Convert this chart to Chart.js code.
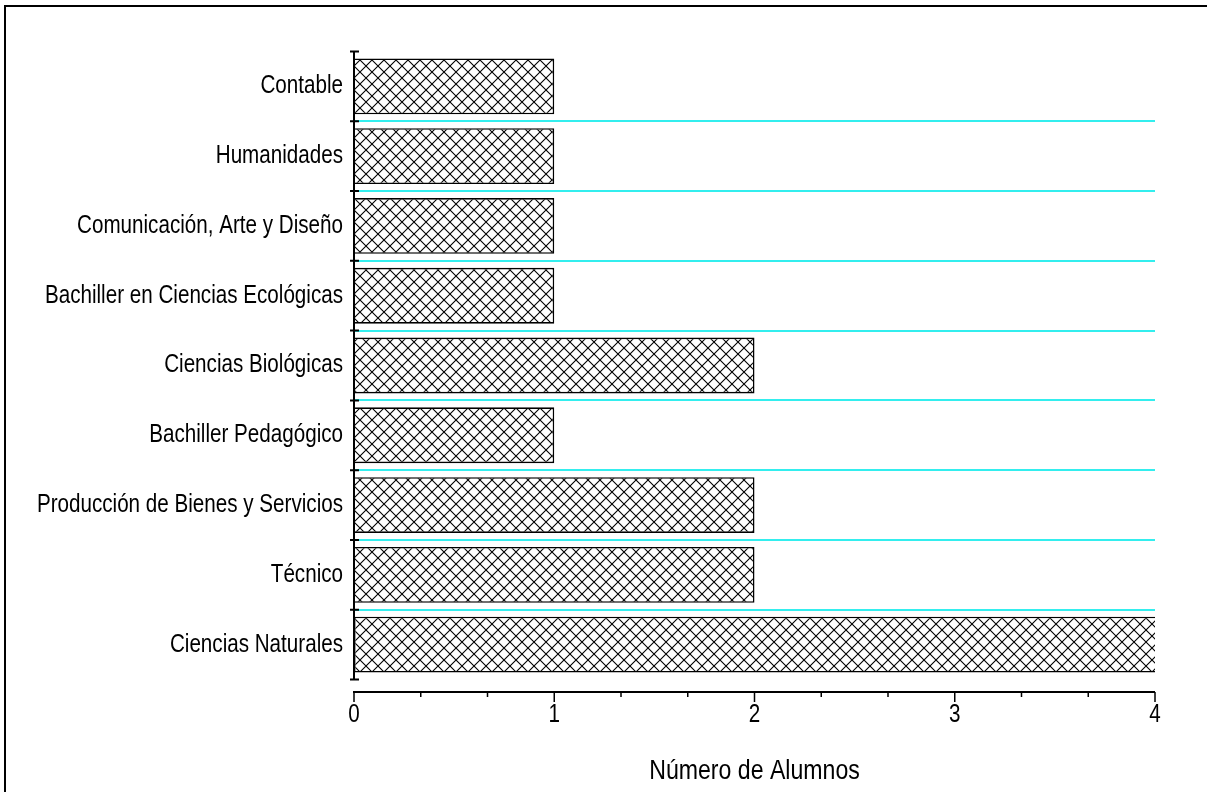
<!DOCTYPE html>
<html>
<head>
<meta charset="utf-8">
<script src="https://cdn.jsdelivr.net/npm/chart.js@4.4.0/dist/chart.umd.min.js"></script>
<style>
    body { margin: 0; background: #fff; overflow: hidden; }
    #wrap { position: relative; width: 1207px; height: 792px; }
    #frame { position: absolute; left: 4px; top: 5px; width: 1300px; height: 900px;
             border-left: 2px solid #000; border-top: 2px solid #000; }
    canvas { position: absolute; left: 0; top: 0; }
</style>
</head>
<body>
<div id="wrap">
    <div id="frame"></div>
    <canvas id="chart" width="1207" height="792"></canvas>
</div>
<script>
// datos del gráfico
const categorias = [
    'Contable',
    'Humanidades',
    'Comunicación, Arte y Diseño',
    'Bachiller en Ciencias Ecológicas',
    'Ciencias Biológicas',
    'Bachiller Pedagógico',
    'Producción de Bienes y Servicios',
    'Técnico',
    'Ciencias Naturales'
];
const alumnos = [1, 1, 1, 1, 2, 1, 2, 2, 4];
const xTicks = [0, 1, 2, 3, 4];
const tituloX = 'Número de Alumnos';

const fuente = "'Liberation Sans', Arial, sans-serif";
const estrechar = 0.825; // no hay fuente "narrow": se comprime el texto a lo ancho

const canvas = document.getElementById('chart');
const ctx2d = canvas.getContext('2d');

// texto condensado (como Helvetica Narrow del original)
const fillTextOriginal = ctx2d.fillText.bind(ctx2d);
ctx2d.fillText = function (texto, x, y, maxWidth) {
    this.save();
    this.translate(x, y);
    this.scale(estrechar, 1);
    if (maxWidth === undefined) fillTextOriginal(texto, 0, 0);
    else fillTextOriginal(texto, 0, 0, maxWidth / estrechar);
    this.restore();
};

// trama cruzada para las barras
function crearTrama() {
    const s = 12;
    const c = document.createElement('canvas');
    c.width = s;
    c.height = s;
    const g = c.getContext('2d');
    g.fillStyle = '#fff';
    g.fillRect(0, 0, s, s);
    g.strokeStyle = '#000';
    g.lineWidth = 1.1;
    g.beginPath();
    g.moveTo(0, 0); g.lineTo(s, s);
    g.moveTo(s, 0); g.lineTo(0, s);
    g.stroke();
    return ctx2d.createPattern(c, 'repeat');
}

// ejes dibujados a mano (eje x separado del área)
const ejesPlugin = {
    id: 'ejes',
    afterDatasetsDraw(chart) {
        const { ctx, chartArea, scales } = chart;
        const xs = scales.x, ys = scales.y;
        ctx.save();
        ctx.strokeStyle = '#000';
        ctx.lineWidth = 2;
        // eje y
        ctx.beginPath();
        ctx.moveTo(chartArea.left, chartArea.top);
        ctx.lineTo(chartArea.left, chartArea.bottom);
        for (let i = 0; i <= categorias.length; i++) {
            const y = ys.getPixelForValue(i - 0.5);
            ctx.moveTo(chartArea.left - 4, y);
            ctx.lineTo(chartArea.left + 5, y);
        }
        ctx.stroke();
        // eje x
        const yEje = chartArea.bottom + 12.5;
        ctx.beginPath();
        ctx.moveTo(chartArea.left - 1, yEje);
        ctx.lineTo(chartArea.right, yEje);
        ctx.stroke();
        ctx.beginPath();
        for (let k = 0; k <= 12; k++) {
            const x = xs.getPixelForValue(k / 3);
            const largo = k % 3 === 0 ? 10 : 5;
            ctx.moveTo(x, yEje);
            ctx.lineTo(x, yEje + largo);
        }
        ctx.lineWidth = 1.5;
        ctx.stroke();
        ctx.restore();
    }
};

new Chart(canvas, {
    type: 'bar',
    data: {
        labels: categorias,
        datasets: [{
            data: alumnos,
            backgroundColor: crearTrama(),
            borderColor: '#000',
            borderWidth: 1.6,
            borderSkipped: ctx => ctx.raw >= 4 ? 'right' : 'left',
            categoryPercentage: 0.8,
            barPercentage: 1
        }]
    },
    options: {
        indexAxis: 'y',
        responsive: false,
        animation: false,
        layout: { padding: { top: 51.5, right: 52, left: 0, bottom: 0 } },
        plugins: {
            legend: { display: false },
            tooltip: { enabled: false }
        },
        scales: {
            x: {
                min: 0,
                max: 4,
                afterBuildTicks: scale => { scale.ticks = xTicks.map(v => ({ value: v })); },
                afterFit: scale => { scale.height = 112.5; },
                grid: { display: false, drawTicks: false },
                border: { display: false },
                ticks: { padding: 21, color: '#000', font: { family: fuente, size: 25 } },
                title: {
                    display: true,
                    text: tituloX,
                    color: '#000',
                    font: { family: fuente, size: 28 },
                    padding: { top: 0, bottom: 4 }
                }
            },
            y: {
                afterFit: scale => { scale.width = 354; },
                grid: {
                    offset: true,
                    drawTicks: false,
                    lineWidth: 2,
                    color: ctx => (ctx.type !== 'tick' || ctx.index === 0) ? 'rgba(0,0,0,0)' : '#33eeee'
                },
                border: { display: false },
                ticks: { padding: 11, color: '#000', font: { family: fuente, size: 25 } }
            }
        }
    },
    plugins: [ejesPlugin]
});
</script>
</body>
</html>
